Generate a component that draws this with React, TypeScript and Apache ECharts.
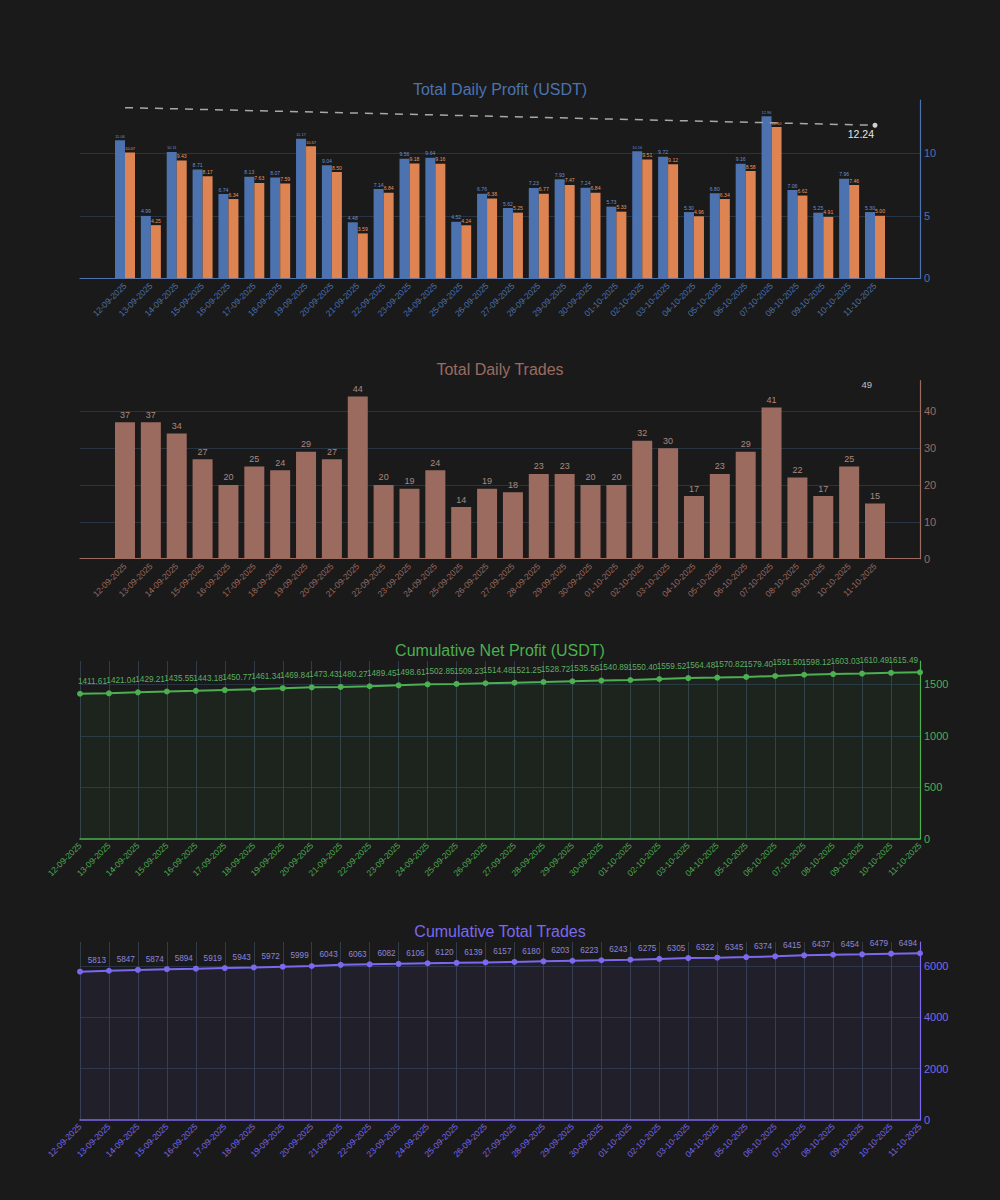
import React, { useEffect, useRef } from "react";
import * as echarts from "echarts";

const dates = [
  "12-09-2025", "13-09-2025", "14-09-2025", "15-09-2025", "16-09-2025", "17-09-2025",
  "18-09-2025", "19-09-2025", "20-09-2025", "21-09-2025", "22-09-2025", "23-09-2025",
  "24-09-2025", "25-09-2025", "26-09-2025", "27-09-2025", "28-09-2025", "29-09-2025",
  "30-09-2025", "01-10-2025", "02-10-2025", "03-10-2025", "04-10-2025", "05-10-2025",
  "06-10-2025", "07-10-2025", "08-10-2025", "09-10-2025", "10-10-2025", "11-10-2025",
];

const grossProfit = [
  11.04, 4.99, 10.11, 8.71, 6.74, 8.13, 8.07, 11.17, 9.04, 4.48, 7.14, 9.56, 9.64, 4.52, 6.76,
  5.62, 7.23, 7.93, 7.24, 5.73, 10.16, 9.72, 5.30, 6.80, 9.16, 12.96, 7.06, 5.25, 7.96, 5.30,
];

const netProfit = [
  10.07, 4.25, 9.43, 8.17, 6.34, 7.63, 7.59, 10.57, 8.50, 3.59, 6.84, 9.18, 9.16, 4.24, 6.38,
  5.25, 6.77, 7.47, 6.84, 5.33, 9.51, 9.12, 4.96, 6.34, 8.58, 12.10, 6.62, 4.91, 7.46, 5.00,
];

const profitTrendStart = 13.65;
const profitTrendEnd = 12.24;

const dailyTrades = [
  37, 37, 34, 27, 20, 25, 24, 29, 27, 44, 20, 19, 24, 14, 19,
  18, 23, 23, 20, 20, 32, 30, 17, 23, 29, 41, 22, 17, 25, 15,
];

const tradesMarker = 49;

const cumulativeNet = [
  1407.36, 1411.61, 1421.04, 1429.21, 1435.55, 1443.18, 1450.77, 1461.34, 1469.84, 1473.43,
  1480.27, 1489.45, 1498.61, 1502.85, 1509.23, 1514.48, 1521.25, 1528.72, 1535.56, 1540.89,
  1550.40, 1559.52, 1564.48, 1570.82, 1579.40, 1591.50, 1598.12, 1603.03, 1610.49, 1615.49,
];

const cumulativeTrades = [
  5776, 5813, 5847, 5874, 5894, 5919, 5943, 5972, 5999, 6043,
  6063, 6082, 6106, 6120, 6139, 6157, 6180, 6203, 6223, 6243,
  6275, 6305, 6322, 6345, 6374, 6415, 6437, 6454, 6479, 6494,
];

const FONT = '"Liberation Sans", Arial, Helvetica, sans-serif';
const BG = "#1a1a1a";
const GRIDLINE = "#283442";
const C_BLUE = "#4c72b0";
const C_ORANGE = "#dd8452";
const C_BROWN = "#9c6b60";
const C_GREEN = "#4caf50";
const C_PURPLE = "#7b68ee";

const BAR_W = 10;

function fitFont(v: number, maxSize: number) {
  const s = v.toFixed(2);
  const digits = s.replace(".", "").length;
  const em = digits * 0.556 + 0.278;
  return Math.min(maxSize, BAR_W / em);
}

function buildOption(): any {
  const last = dates.length - 1;

  const grids = [
    { left: 80, right: 80, top: 100, height: 178.3 },
    { left: 112.07, right: 112.07, top: 100, height: 178.3 },
    { left: 80, right: 80, top: 380.7, height: 178 },
    { left: 112.07, right: 112.07, top: 380.7, height: 178 },
    { left: 80, right: 80, top: 661, height: 178 },
    { left: 80, right: 80, top: 942, height: 178 },
  ];

  const dummyX = (gridIndex: number, color: string) => ({
    type: "value",
    gridIndex,
    min: 0,
    max: 1,
    axisLine: { show: true, onZero: false, lineStyle: { color, width: 1.2 } },
    axisTick: { show: false },
    axisLabel: { show: false },
    splitLine: { show: false },
  });

  const catX = (gridIndex: number, color: string) => ({
    type: "category",
    gridIndex,
    data: dates,
    boundaryGap: true,
    axisLine: { show: false },
    axisTick: { show: false },
    axisLabel: { rotate: 45, interval: 0, color, fontSize: 8.5, fontFamily: FONT, margin: 6 },
    splitLine: { show: false },
  });

  const lineX = (gridIndex: number, color: string) => ({
    type: "category",
    gridIndex,
    data: dates,
    boundaryGap: false,
    axisLine: { show: true, onZero: false, lineStyle: { color, width: 1.6 } },
    axisTick: { show: false },
    axisLabel: { rotate: 45, interval: 0, color, fontSize: 8.5, fontFamily: FONT, margin: 5 },
    splitLine: { show: true, interval: 0, lineStyle: { color: "#323c48", width: 1 } },
  });

  const valY = (gridIndex: number, color: string, max: number, interval: number) => ({
    type: "value",
    gridIndex,
    position: "right",
    min: 0,
    max,
    interval,
    axisLine: { show: true, onZero: false, lineStyle: { color, width: 1.2 } },
    axisTick: { show: false },
    axisLabel: {
      color,
      fontSize: 11,
      fontFamily: FONT,
      margin: 4,
      showMaxLabel: false,
      formatter: (v: number) => String(v),
    },
    splitLine: {
      show: true,
      showMaxLine: false,
      showMinLine: false,
      lineStyle: { color: GRIDLINE, width: 1 },
    },
  });

  const hiddenY = (gridIndex: number, max: number) => ({
    type: "value",
    gridIndex,
    min: 0,
    max,
    show: false,
  });

  const titleStyle = (color: string) => ({
    color,
    fontSize: 16,
    fontWeight: "normal",
    fontFamily: FONT,
  });

  const profitTrend = dates.map((_, i) =>
    i === 0
      ? { value: profitTrendStart, symbolSize: 0 }
      : i === last
      ? {
          value: profitTrendEnd,
          symbolSize: 5,
          label: {
            show: true,
            position: "bottom",
            align: "right",
            distance: 1,
            offset: [-1, 0],
            color: "#e6e6e6",
            fontSize: 10.5,
            fontFamily: FONT,
            formatter: (p: any) => Number(p.value).toFixed(2),
          },
        }
      : null
  );

  return {
    animation: false,
    backgroundColor: BG,
    textStyle: { fontFamily: FONT },
    title: [
      { text: "Total Daily Profit (USDT)", left: "center", top: 81, padding: 0, textStyle: titleStyle(C_BLUE) },
      { text: "Total Daily Trades", left: "center", top: 361, padding: 0, textStyle: titleStyle(C_BROWN) },
      { text: "Cumulative Net Profit (USDT)", left: "center", top: 642, padding: 0, textStyle: titleStyle(C_GREEN) },
      { text: "Cumulative Total Trades", left: "center", top: 923, padding: 0, textStyle: titleStyle(C_PURPLE) },
    ],
    grid: grids,
    xAxis: [
      dummyX(0, C_BLUE),
      catX(1, C_BLUE),
      dummyX(2, C_BROWN),
      catX(3, C_BROWN),
      lineX(4, C_GREEN),
      lineX(5, C_PURPLE),
    ],
    yAxis: [
      valY(0, C_BLUE, 14.26, 5),
      hiddenY(1, 14.26),
      valY(2, C_BROWN, 48.3, 10),
      hiddenY(3, 48.3),
      valY(4, C_GREEN, 1725, 500),
      valY(5, C_PURPLE, 6933, 2000),
    ],
    series: [
      {
        type: "bar",
        name: "Gross Profit",
        xAxisIndex: 1,
        yAxisIndex: 1,
        barWidth: BAR_W,
        barGap: "0%",
        itemStyle: { color: C_BLUE },
        data: grossProfit.map((v) => ({ value: v, label: { fontSize: fitFont(v, 6) } })),
        label: {
          show: true,
          position: "top",
          distance: 2,
          color: "#6f8fca",
          fontFamily: FONT,
          formatter: (p: any) => Number(p.value).toFixed(2),
        },
      },
      {
        type: "bar",
        name: "Net Profit",
        xAxisIndex: 1,
        yAxisIndex: 1,
        barWidth: BAR_W,
        barGap: "0%",
        itemStyle: { color: C_ORANGE },
        data: netProfit.map((v) => ({ value: v, label: { fontSize: fitFont(v, 6) } })),
        label: {
          show: true,
          position: "top",
          distance: 2,
          color: "#e8945f",
          fontFamily: FONT,
          formatter: (p: any) => Number(p.value).toFixed(2),
        },
      },
      {
        type: "line",
        name: "Trend",
        xAxisIndex: 1,
        yAxisIndex: 1,
        connectNulls: true,
        symbol: "circle",
        showSymbol: true,
        itemStyle: { color: "#d0d0d0" },
        lineStyle: { color: "#a8a8a8", width: 1.5, type: [8, 7] },
        data: profitTrend,
        z: 5,
      },
      {
        type: "bar",
        name: "Trades",
        xAxisIndex: 3,
        yAxisIndex: 3,
        barWidth: 20,
        itemStyle: { color: C_BROWN },
        data: dailyTrades,
        label: {
          show: true,
          position: "top",
          distance: 3,
          color: "#a88a80",
          fontSize: 9,
          fontFamily: FONT,
        },
      },
      {
        type: "scatter",
        name: "Trades Marker",
        xAxisIndex: 3,
        yAxisIndex: 3,
        clip: false,
        symbolSize: 1,
        itemStyle: { color: "rgba(0,0,0,0)" },
        data: [[last, tradesMarker]],
        label: {
          show: true,
          position: "bottom",
          align: "right",
          distance: 1,
          offset: [-3, 0],
          color: "#e6e6e6",
          fontSize: 9.5,
          fontFamily: FONT,
          formatter: (p: any) => String(p.value[1]),
        },
      },
      {
        type: "line",
        name: "Cumulative Net Profit",
        xAxisIndex: 4,
        yAxisIndex: 4,
        symbol: "circle",
        symbolSize: 6,
        showSymbol: true,
        lineStyle: { color: C_GREEN, width: 2 },
        itemStyle: { color: C_GREEN },
        areaStyle: { color: "rgba(76,175,80,0.1)" },
        data: cumulativeNet.map((v, i) => (i === 0 ? { value: v, label: { show: false } } : v)),
        label: {
          show: true,
          position: "top",
          align: "right",
          distance: 5,
          offset: [-2, 0],
          color: "#5bb060",
          fontSize: 8.2,
          fontFamily: FONT,
          formatter: (p: any) => Number(p.value).toFixed(2),
        },
      },
      {
        type: "line",
        name: "Cumulative Total Trades",
        xAxisIndex: 5,
        yAxisIndex: 5,
        symbol: "circle",
        symbolSize: 6,
        showSymbol: true,
        lineStyle: { color: C_PURPLE, width: 2 },
        itemStyle: { color: C_PURPLE },
        areaStyle: { color: "rgba(123,104,238,0.1)" },
        data: cumulativeTrades.map((v, i) => (i === 0 ? { value: v, label: { show: false } } : v)),
        label: {
          show: true,
          position: "top",
          align: "right",
          distance: 3,
          offset: [-3, 0],
          color: "#8f85d6",
          fontSize: 8.2,
          fontFamily: FONT,
          formatter: (p: any) => String(p.value),
        },
      },
    ],
  };
}

export default function App() {
  const ref = useRef<HTMLDivElement | null>(null);

  useEffect(() => {
    if (!ref.current) return;
    const chart = echarts.init(ref.current, null, { renderer: "svg" });
    chart.setOption(buildOption());
    return () => {
      chart.dispose();
    };
  }, []);

  return (
    <div
      ref={ref}
      style={{
        position: "absolute",
        left: 0,
        top: 0,
        width: 1000,
        height: 1200,
        background: BG,
      }}
    />
  );
}
